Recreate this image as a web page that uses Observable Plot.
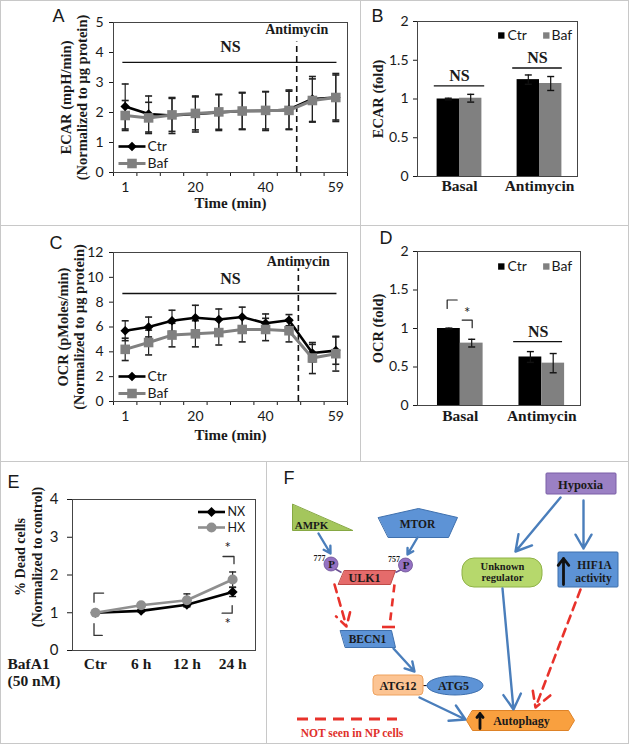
<!DOCTYPE html>
<html>
<head>
<meta charset="utf-8">
<script src="https://cdn.jsdelivr.net/npm/d3@7"></script>
<script src="https://cdn.jsdelivr.net/npm/@observablehq/plot@0.6"></script>
<style>
html,body{margin:0;padding:0;background:#fff;}
#fig{position:relative;width:629px;height:744px;background:#fff;overflow:hidden;}
.cell{position:absolute;}
.cell svg{display:block;}
.rule{position:absolute;background:#c8c8c8;}
</style>
</head>
<body>
<div id="fig"></div>
<script>
// ---------------- DATA ----------------
// Panels A & C: Seahorse measurements (10 time points)
const timeTickIdx = [0, 3, 6, 9];
const timeTickLabels = ["1", "20", "40", "59"];
const seriesNames = ["Ctr", "Baf"];

const ecarCtr    = [2.2, 1.95, 1.9, 1.95, 2.0, 2.05, 2.05, 2.1, 2.45, 2.5];
const ecarCtrErr = [0.75, 0.6, 0.6, 0.6, 0.6, 0.62, 0.65, 0.65, 0.75, 0.8];
const ecarBaf    = [1.9, 1.82, 1.92, 1.97, 2.02, 2.05, 2.07, 2.07, 2.4, 2.5];
const ecarBafErr = [0.5, 0.52, 0.55, 0.55, 0.58, 0.6, 0.62, 0.64, 0.72, 0.75];

const ocrCtr    = [5.7, 6.0, 6.5, 6.75, 6.6, 6.8, 6.3, 6.55, 3.9, 4.1];
const ocrCtrErr = [0.8, 0.8, 0.85, 1.0, 0.85, 0.8, 0.75, 0.45, 0.7, 1.1];
const ocrBaf    = [4.2, 4.75, 5.35, 5.45, 5.55, 5.8, 5.8, 5.7, 3.5, 3.85];
const ocrBafErr = [0.9, 1.0, 0.95, 1.05, 1.0, 1.0, 0.9, 0.9, 1.25, 1.4];

// Panels B & D: fold change bars
const barCats = ["Basal", "Antimycin"];
const ecarFoldCtr = [1.0, 1.25],  ecarFoldCtrErr = [0.01, 0.06];
const ecarFoldBaf = [1.01, 1.2],  ecarFoldBafErr = [0.05, 0.09];
const ocrFoldCtr  = [1.0, 0.63],  ocrFoldCtrErr  = [0.005, 0.07];
const ocrFoldBaf  = [0.81, 0.55], ocrFoldBafErr  = [0.05, 0.125];

// Panel E: dead cells
const eCats = ["Ctr", "6 h", "12 h", "24 h"];
const nxVals = [1.0, 1.05, 1.21, 1.55], nxErr = [0.02, 0.03, 0.05, 0.12];
const hxVals = [1.0, 1.2, 1.33, 1.88],  hxErr = [0.02, 0.04, 0.17, 0.2];

// Panel F: pathway diagram (diagram coordinates)
const fPolys = [
  {id: "AMPK", kind: "green", pts: [[292,504],[292,530],[352,530]]},
  {id: "MTOR", kind: "blue", pts: [[378,517],[418,508],[457,517],[448,537],[388,537]]},
  {id: "ULK1", kind: "red", pts: [[344,570],[395,570],[390,584],[338,584]]},
  {id: "BECN1", kind: "blue", pts: [[340,630],[391,630],[395,647],[345,647]]},
  {id: "Autophagy", kind: "orange", pts: [[472,710],[568,710],[574,720],[568,730],[472,730],[466,720]]}
];
const fBoxes = [
  {id: "Hypoxia", kind: "purple", x1: 546, x2: 616, y1: 473, y2: 494},
  {id: "HIF1A", kind: "blue", x1: 558, x2: 618, y1: 552, y2: 587},
  {id: "Unknown regulator", kind: "lime", x1: 462, x2: 542, y1: 558, y2: 587},
  {id: "ATG12", kind: "peach", x1: 373, x2: 423, y1: 675, y2: 695},
  {id: "ATG5", kind: "blue", x1: 427, x2: 483, y1: 676, y2: 695}
];
const fLabels = [
  {t: "Hypoxia", x: 580, y: 484, s: 12.5},
  {t: "AMPK", x: 311, y: 524.5, s: 11},
  {t: "MTOR", x: 417, y: 524, s: 11.5},
  {t: "ULK1", x: 364, y: 578, s: 12},
  {t: "BECN1", x: 367, y: 639, s: 11.5},
  {t: "ATG12", x: 397.5, y: 685.5, s: 12},
  {t: "-", x: 424.5, y: 684.5, s: 12},
  {t: "ATG5", x: 453, y: 685.5, s: 12},
  {t: "Unknown", x: 502, y: 566, s: 10.5},
  {t: "regulator", x: 502, y: 577.5, s: 10.5},
  {t: "HIF1A", x: 594, y: 565, s: 11.5},
  {t: "activity", x: 593, y: 577.5, s: 11.5},
  {t: "Autophagy", x: 521, y: 720.5, s: 12},
  {t: "P", x: 331, y: 564, s: 11},
  {t: "P", x: 405.5, y: 565, s: 11}
];
const fSup = [{t: "777", x: 325, y: 557.5}, {t: "757", x: 399.5, y: 559}];
const fPhospho = [{x: 330.5, y: 563.5}, {x: 405, y: 564.5}];
const fStems = [{x1: 334, y1: 568, x2: 341, y2: 572}, {x1: 401, y1: 569, x2: 395, y2: 572}];
const fBlueArrows = [
  {x1: 318, y1: 533, x2: 330, y2: 553},
  {x1: 417, y1: 537, x2: 407, y2: 554},
  {x1: 393, y1: 648, x2: 414, y2: 671},
  {x1: 419, y1: 697, x2: 465, y2: 719},
  {x1: 560, y1: 497, x2: 515, y2: 551},
  {x1: 583, y1: 500, x2: 583, y2: 548},
  {x1: 502, y1: 588, x2: 513, y2: 709}
];
const fRedArrows = [
  {x1: 334, y1: 584, x2: 346, y2: 626},
  {x1: 580, y1: 589, x2: 535, y2: 707}
];
const fRedInhib = [{x1: 394, y1: 584, x2: 389, y2: 626}];
const fInhibBar = [{x1: 382, x2: 395, y: 626.5}];
const fUpArrows = [{x: 563, y1: 584, y2: 558}, {x: 479.5, y1: 728, y2: 713}];
const fLegendDash = [{x1: 297, x2: 397, y: 718.5}];

// ---------------- STYLE ----------------
const SERIF = "'Liberation Serif','Times New Roman',serif";
const SANS = "Lato,'Open Sans',sans-serif";
const ARIAL = "'Liberation Sans',Arial,sans-serif";
const BLACK = "#000000", GREY = "#808080", FRAME = "#454545";
const bold = {fontFamily: SERIF, fontWeight: "bold"};
const capSym = {draw(ctx) { ctx.moveTo(-3.5, 0); ctx.lineTo(3.5, 0); }};
const legLine = {draw(ctx) { ctx.moveTo(-13.5, 0); ctx.lineTo(13.5, 0); }};
const baseStyle = {fontFamily: SANS, fontSize: "14px", color: "#1a1a1a", background: "transparent"};

const fig = document.getElementById("fig");
function place(node, left, top) {
  const d = document.createElement("div");
  d.className = "cell"; d.style.left = left + "px"; d.style.top = top + "px";
  d.appendChild(node); fig.appendChild(d);
}
function rule(l, t, w, h) {
  const d = document.createElement("div");
  d.className = "rule";
  Object.assign(d.style, {left: l + "px", top: t + "px", width: w + "px", height: h + "px"});
  fig.appendChild(d);
}
const label = (txt, opts) => Plot.text([txt], {text: d => d, ...opts});

// ---------------- LINE PANELS (A, C) ----------------
function linePanel(o) {
  const n = o.ctr.length;
  const rows = (vals, errs) => vals.map((v, i) => ({i, v, e: errs[i]}));
  const ctr = rows(o.ctr, o.ctrErr), baf = rows(o.baf, o.bafErr);
  const errs = [...baf, ...ctr];
  const caps = errs.flatMap(d => [{i: d.i, y: d.v - d.e}, {i: d.i, y: d.v + d.e}]);
  return Plot.plot({
    width: 360, height: o.height,
    marginLeft: 113, marginRight: 13, marginTop: o.mt, marginBottom: o.mb,
    style: baseStyle,
    x: {domain: [-0.5, n - 0.5], axis: null},
    y: {domain: [0, o.yMax], axis: null},
    marks: [
      Plot.axisY(o.yTicks, {tickSize: 4, tickPadding: 6, label: null, tickFormat: d => String(d)}),
      Plot.axisX(d3.range(-0.5, n, 1), {tickSize: 4, tickFormat: () => "", label: null}),
      Plot.axisX(timeTickIdx, {tickSize: 0, tickPadding: 10, label: null,
        tickFormat: d => timeTickLabels[timeTickIdx.indexOf(d)]}),
      Plot.ruleX([o.antiX], {y1: 0, y2: o.dashTop, stroke: "#111", strokeWidth: 1.6, strokeDasharray: "6,4"}),
      Plot.ruleY([o.nsY], {x1: -0.1, x2: n - 0.95, stroke: "#111", strokeWidth: 1.3}),
      label("NS", {x: (n - 1) / 2, y: o.nsTextY, ...bold, fontSize: 16}),
      label("Antimycin", {x: o.antiX, y: o.antiTextY, ...bold, fontSize: 14}),
      Plot.ruleX(errs, {x: "i", y1: d => d.v - d.e, y2: d => d.v + d.e, stroke: "#222", strokeWidth: 1.2}),
      Plot.dot(caps, {x: "i", y: "y", symbol: capSym, r: 3, fill: "none", stroke: "#222", strokeWidth: 1.6}),
      Plot.line(ctr, {x: "i", y: "v", stroke: BLACK, strokeWidth: 2.6}),
      Plot.dot(ctr, {x: "i", y: "v", symbol: "diamond2", r: 4.3, fill: BLACK}),
      Plot.line(baf, {x: "i", y: "v", stroke: GREY, strokeWidth: 3}),
      Plot.dot(baf, {x: "i", y: "v", symbol: "square", r: 5.4, fill: GREY}),
      Plot.frame({stroke: FRAME}),
      // legend
      Plot.dot(["Ctr"], {frameAnchor: "bottom-left", dx: 18.5, dy: o.legDy[0], symbol: legLine, r: 3, fill: "none", stroke: BLACK, strokeWidth: 2.6}),
      Plot.dot(["Ctr"], {frameAnchor: "bottom-left", dx: 18.5, dy: o.legDy[0], symbol: "diamond2", r: 4.3, fill: BLACK}),
      label("Ctr", {frameAnchor: "bottom-left", dx: 34, dy: o.legDy[0], textAnchor: "start", lineAnchor: "middle", fontSize: 14}),
      Plot.dot(["Baf"], {frameAnchor: "bottom-left", dx: 18.5, dy: o.legDy[1], symbol: legLine, r: 3, fill: "none", stroke: GREY, strokeWidth: 3}),
      Plot.dot(["Baf"], {frameAnchor: "bottom-left", dx: 18.5, dy: o.legDy[1], symbol: "square", r: 5.4, fill: GREY}),
      label("Baf", {frameAnchor: "bottom-left", dx: 34, dy: o.legDy[1], textAnchor: "start", lineAnchor: "middle", fontSize: 14}),
      // labels
      label(o.ylab[0], {frameAnchor: "left", dx: o.ylabDx[0], rotate: -90, textAnchor: "middle", lineAnchor: "middle", ...bold, fontSize: 14.5}),
      label(o.ylab[1], {frameAnchor: "left", dx: o.ylabDx[1], rotate: -90, textAnchor: "middle", lineAnchor: "middle", ...bold, fontSize: 14.5}),
      label("Time (min)", {frameAnchor: "bottom", dy: o.timeDy, textAnchor: "middle", lineAnchor: "middle", ...bold, fontSize: 15}),
      label(o.letter, {frameAnchor: "top-left", dx: o.letterDx, dy: o.letterDy, textAnchor: "start", lineAnchor: "middle", fontFamily: ARIAL, fontSize: 18})
    ]
  });
}

// ---------------- BAR PANELS (B, D) ----------------
function barPanel(o) {
  const rows = barCats.flatMap((c, i) => [
    {c, i, s: "Ctr", v: o.ctr[i], e: o.ctrErr[i]},
    {c, i, s: "Baf", v: o.baf[i], e: o.bafErr[i]}
  ]);
  const left = d => d.i + (d.s === "Ctr" ? 0.245 : 0.525);
  const mid = d => left(d) + 0.14;
  const caps = rows.flatMap(d => [{x: mid(d), y: d.v - d.e}, {x: mid(d), y: d.v + d.e}]);
  return Plot.plot({
    width: 269, height: o.height,
    marginLeft: 57, marginRight: o.mr, marginTop: o.mt, marginBottom: o.mb,
    style: baseStyle,
    x: {domain: [0, 2], axis: null},
    y: {domain: [0, 2], axis: null},
    color: {domain: seriesNames, range: [BLACK, GREY]},
    marks: [
      Plot.axisY([0, 0.5, 1, 1.5, 2], {tickSize: 4, tickPadding: 5, label: null, tickFormat: d => String(d)}),
      Plot.rect(rows, {x1: left, x2: d => left(d) + 0.28, y1: 0, y2: "v", fill: "s"}),
      Plot.ruleX(rows, {x: mid, y1: d => d.v - d.e, y2: d => d.v + d.e, stroke: "#111", strokeWidth: 1.2}),
      Plot.dot(caps, {x: "x", y: "y", symbol: capSym, r: 3, fill: "none", stroke: "#111", strokeWidth: 1.4}),
      Plot.ruleY(o.ns, {x1: "x1", x2: "x2", y: "y", stroke: "#111", strokeWidth: 1.4}),
      Plot.text(o.ns, {x: d => (d.x1 + d.x2) / 2, y: "ty", text: () => "NS", ...bold, fontSize: 16}),
      ...(o.brackets ? [
        Plot.line(o.brackets, {x: "x", y: "y", z: "id", stroke: "#222", strokeWidth: 1.2}),
        Plot.text(o.stars, {x: "x", y: "y", text: () => "*", fontFamily: SANS, fontSize: 15})
      ] : []),
      Plot.frame({stroke: FRAME}),
      Plot.text(barCats, {x: (d, i) => i + 0.525, frameAnchor: "bottom", dy: o.catDy, text: d => d, lineAnchor: "middle", ...bold, fontSize: 15.5}),
      // legend
      Plot.dot(["Ctr"], {frameAnchor: "top-left", dx: 83.8, dy: o.legDy, symbol: "square", r: 3.6, fill: BLACK}),
      label("Ctr", {frameAnchor: "top-left", dx: 90, dy: o.legDy, textAnchor: "start", lineAnchor: "middle", fontSize: 14}),
      Plot.dot(["Baf"], {frameAnchor: "top-left", dx: 128.8, dy: o.legDy, symbol: "square", r: 3.6, fill: GREY}),
      label("Baf", {frameAnchor: "top-left", dx: 134, dy: o.legDy, textAnchor: "start", lineAnchor: "middle", fontSize: 14}),
      label(o.ylab, {frameAnchor: "left", dx: -39, rotate: -90, textAnchor: "middle", lineAnchor: "middle", ...bold, fontSize: 14.5}),
      label(o.letter, {frameAnchor: "top-left", dx: o.letterDx, dy: o.letterDy, textAnchor: "start", lineAnchor: "middle", fontFamily: ARIAL, fontSize: 18})
    ]
  });
}

// ---------------- PANEL E ----------------
function panelE() {
  const rows = (vals, errs) => vals.map((v, i) => ({i, v, e: errs[i]}));
  const nx = rows(nxVals, nxErr), hx = rows(hxVals, hxErr);
  const errs = [...nx, ...hx];
  const caps = errs.flatMap(d => [{i: d.i, y: d.v - d.e}, {i: d.i, y: d.v + d.e}]);
  const brackets = [
    {id: 1, x: -0.03, y: 1.28}, {id: 1, x: -0.03, y: 1.52}, {id: 1, x: 0.18, y: 1.52},
    {id: 2, x: -0.03, y: 0.71}, {id: 2, x: -0.03, y: 0.40}, {id: 2, x: 0.15, y: 0.40},
    {id: 3, x: 2.79, y: 2.49}, {id: 3, x: 3.03, y: 2.49}, {id: 3, x: 3.03, y: 2.30},
    {id: 4, x: 2.77, y: 0.99}, {id: 4, x: 2.99, y: 0.99}, {id: 4, x: 2.99, y: 1.19}
  ];
  const stars = [{x: 2.89, y: 2.7}, {x: 2.89, y: 0.7}];
  return Plot.plot({
    width: 266, height: 283,
    marginLeft: 72, marginRight: 11, marginTop: 38, marginBottom: 94,
    style: {...baseStyle, fontSize: "15px"},
    x: {domain: [-0.5, 3.5], axis: null},
    y: {domain: [0, 4], axis: null},
    marks: [
      Plot.axisY([0, 1, 2, 3, 4], {tickSize: 5, tickPadding: 9, label: null, tickFormat: d => String(d)}),
      Plot.ruleX(errs, {x: "i", y1: d => d.v - d.e, y2: d => d.v + d.e, stroke: "#222", strokeWidth: 1.2}),
      Plot.dot(caps, {x: "i", y: "y", symbol: capSym, r: 3, fill: "none", stroke: "#222", strokeWidth: 1.4}),
      Plot.line(nx, {x: "i", y: "v", stroke: BLACK, strokeWidth: 2.6}),
      Plot.dot(nx, {x: "i", y: "v", symbol: "diamond2", r: 4.5, fill: BLACK}),
      Plot.line(hx, {x: "i", y: "v", stroke: "#8f8f8f", strokeWidth: 2.6}),
      Plot.dot(hx, {x: "i", y: "v", r: 5, fill: "#8f8f8f"}),
      Plot.line(brackets, {x: "x", y: "y", z: "id", stroke: "#333", strokeWidth: 1.3}),
      Plot.text(stars, {x: "x", y: "y", text: () => "*", fontSize: 15}),
      Plot.frame({stroke: FRAME}),
      // legend
      Plot.dot(["NX"], {frameAnchor: "top-left", dx: 139, dy: 12.5, symbol: legLine, r: 3, fill: "none", stroke: BLACK, strokeWidth: 2.6}),
      Plot.dot(["NX"], {frameAnchor: "top-left", dx: 139, dy: 12.5, symbol: "diamond2", r: 4.5, fill: BLACK}),
      label("NX", {frameAnchor: "top-left", dx: 155, dy: 12.5, textAnchor: "start", lineAnchor: "middle", fontSize: 12.5}),
      Plot.dot(["HX"], {frameAnchor: "top-left", dx: 139, dy: 28, symbol: legLine, r: 3, fill: "none", stroke: "#8f8f8f", strokeWidth: 2.6}),
      Plot.dot(["HX"], {frameAnchor: "top-left", dx: 139, dy: 28, r: 5, fill: "#8f8f8f"}),
      label("HX", {frameAnchor: "top-left", dx: 155, dy: 28, textAnchor: "start", lineAnchor: "middle", fontSize: 12.5}),
      // axis labels
      Plot.text(eCats, {x: (d, i) => i, frameAnchor: "bottom", dy: 14, text: d => d, lineAnchor: "middle", ...bold, fontSize: 15.5}),
      label("BafA1", {frameAnchor: "bottom-left", dx: -65, dy: 14, textAnchor: "start", lineAnchor: "middle", ...bold, fontSize: 15.5}),
      label("(50 nM)", {frameAnchor: "bottom-left", dx: -65, dy: 31, textAnchor: "start", lineAnchor: "middle", ...bold, fontSize: 15.5}),
      label("% Dead cells", {frameAnchor: "left", dx: -52, dy: -18, rotate: -90, textAnchor: "middle", lineAnchor: "middle", ...bold, fontSize: 14}),
      label("(Normalized to control)", {frameAnchor: "left", dx: -35, dy: -18, rotate: -90, textAnchor: "middle", lineAnchor: "middle", ...bold, fontSize: 14}),
      label("E", {frameAnchor: "top-left", dx: -65, dy: -17, textAnchor: "start", lineAnchor: "middle", fontFamily: ARIAL, fontSize: 18})
    ]
  });
}

// ---------------- PANEL F ----------------
function panelF() {
  const pal = {
    green:  {fill: "#a4c65c", stroke: "#86a843"},
    blue:   {fill: "#5d93d6", stroke: "#3f70ad"},
    red:    {fill: "#e56b6b", stroke: "#bf4a47"},
    orange: {fill: "#f9a03f", stroke: "#de8227"},
    purple: {fill: "#9b80c4", stroke: "#7a5ea6"},
    lime:   {fill: "#b6d86c", stroke: "#8fb247"},
    peach:  {fill: "#fcc493", stroke: "#eea25f"}
  };
  const corner = {"Hypoxia": [1, 1], "HIF1A": [1, 1], "Unknown regulator": [12, 12], "ATG12": [4, 4], "ATG5": [28, 9.5]};
  const blueArrow = "#4a7ebb", red = "#e8322b";
  return Plot.plot({
    width: 363, height: 283, margin: 0,
    style: {...baseStyle, fontFamily: SERIF},
    x: {domain: [266, 629], axis: null},
    y: {domain: [744, 461], axis: null},
    marks: [
      ...fPolys.map(p => Plot.line(p.pts, {x: d => d[0], y: d => d[1], curve: "linear-closed",
        fill: pal[p.kind].fill, stroke: pal[p.kind].stroke, strokeWidth: 1})),
      ...fBoxes.map(b => Plot.rect([b], {x1: "x1", x2: "x2", y1: "y1", y2: "y2",
        fill: pal[b.kind].fill, stroke: pal[b.kind].stroke, strokeWidth: 1, rx: corner[b.id][0], ry: corner[b.id][1]})),
      Plot.link(fStems, {x1: "x1", y1: "y1", x2: "x2", y2: "y2", stroke: "#6b4f93", strokeWidth: 1.5}),
      Plot.dot(fPhospho, {x: "x", y: "y", r: 7, fill: "#9471c2", stroke: "#6b4f93", strokeWidth: 0.8}),
      Plot.arrow(fBlueArrows, {x1: "x1", y1: "y1", x2: "x2", y2: "y2", stroke: blueArrow, strokeWidth: 2.4, headLength: 11}),
      Plot.arrow(fRedArrows, {x1: "x1", y1: "y1", x2: "x2", y2: "y2", stroke: red, strokeWidth: 2.6, headLength: 11, strokeDasharray: "8,6"}),
      Plot.link(fRedInhib, {x1: "x1", y1: "y1", x2: "x2", y2: "y2", stroke: red, strokeWidth: 2.6, strokeDasharray: "8,6"}),
      Plot.ruleY(fInhibBar, {x1: "x1", x2: "x2", y: "y", stroke: red, strokeWidth: 2.6}),
      Plot.arrow(fUpArrows, {x1: "x", x2: "x", y1: "y1", y2: "y2", stroke: "#111", strokeWidth: 2.8, headLength: 7, headAngle: 75}),
      Plot.ruleY(fLegendDash, {x1: "x1", x2: "x2", y: "y", stroke: red, strokeWidth: 3, strokeDasharray: "11,7"}),
      Plot.text(fLabels, {x: "x", y: "y", text: "t", fontSize: "s", fontWeight: "bold", fill: "#1a1a1a"}),
      Plot.text(fSup, {x: "x", y: "y", text: "t", fontSize: 8, fontWeight: "bold", textAnchor: "end", fill: "#1a1a1a"}),
      Plot.text(["NOT seen in NP cells"], {x: 351.5, y: 733, text: d => d, fontSize: 11.5, fontWeight: "bold", fill: "#e0302a"}),
      Plot.text(["F"], {x: 283, y: 477.5, text: d => d, textAnchor: "start", fontFamily: ARIAL, fontSize: 18, fill: "#1a1a1a"})
    ]
  });
}

// ---------------- ASSEMBLE ----------------
place(linePanel({
  ctr: ecarCtr, ctrErr: ecarCtrErr, baf: ecarBaf, bafErr: ecarBafErr,
  height: 225, mt: 22, mb: 53, yMax: 5, yTicks: [0, 1, 2, 3, 4, 5],
  ylab: ["ECAR (mpH/min)", "(Normalized to µg protein)"], ylabDx: [-47, -31],
  letter: "A", letterDx: -61, letterDy: -6,
  nsY: 3.67, nsTextY: 4.2, antiX: 7.33, antiTextY: 4.77, dashTop: 4.35,
  legDy: [-26, -9], timeDy: 31
}), 0, 0);

place(barPanel({
  ctr: ecarFoldCtr, ctrErr: ecarFoldCtrErr, baf: ecarFoldBaf, bafErr: ecarFoldBafErr,
  height: 225, mt: 21, mb: 49, mr: 52, catDy: 10, legDy: 14,
  ylab: "ECAR (fold)", letter: "B", letterDx: -46, letterDy: -5,
  ns: [{x1: 0.21, x2: 0.84, y: 1.17, ty: 1.3}, {x1: 1.19, x2: 1.81, y: 1.4, ty: 1.53}]
}), 360, 0);

place(linePanel({
  ctr: ocrCtr, ctrErr: ocrCtrErr, baf: ocrBaf, bafErr: ocrBafErr,
  height: 236, mt: 27, mb: 60, yMax: 12, yTicks: [0, 2, 4, 6, 8, 10, 12],
  ylab: ["OCR (pMoles/min)", "(Normalized to µg protein)"], ylabDx: [-50, -34],
  letter: "C", letterDx: -64, letterDy: -9,
  nsY: 8.7, nsTextY: 9.9, antiX: 7.4, antiTextY: 11.3, dashTop: 10.7,
  legDy: [-25, -8], timeDy: 34
}), 0, 225);

place(barPanel({
  ctr: ocrFoldCtr, ctrErr: ocrFoldCtrErr, baf: ocrFoldBaf, bafErr: ocrFoldBafErr,
  height: 236, mt: 26, mb: 56, mr: 49, catDy: 11, legDy: 15,
  ylab: "OCR (fold)", letter: "D", letterDx: -38, letterDy: -13.5,
  ns: [{x1: 1.18, x2: 1.78, y: 0.83, ty: 0.96}],
  brackets: [
    {id: 1, x: 0.364, y: 1.26}, {id: 1, x: 0.364, y: 1.37}, {id: 1, x: 0.487, y: 1.37},
    {id: 2, x: 0.548, y: 1.11}, {id: 2, x: 0.671, y: 1.11}, {id: 2, x: 0.671, y: 1.01}
  ],
  stars: [{x: 0.61, y: 1.2}]
}), 360, 225);

place(panelE(), 0, 461);
place(panelF(), 266, 461);

// cell borders
rule(0, 0, 629, 1); rule(0, 743, 629, 1); rule(0, 0, 1, 744); rule(628, 0, 1, 744);
rule(0, 225, 629, 1); rule(0, 461, 629, 1);
rule(360, 0, 1, 461); rule(266, 461, 1, 283);
</script>
</body>
</html>
